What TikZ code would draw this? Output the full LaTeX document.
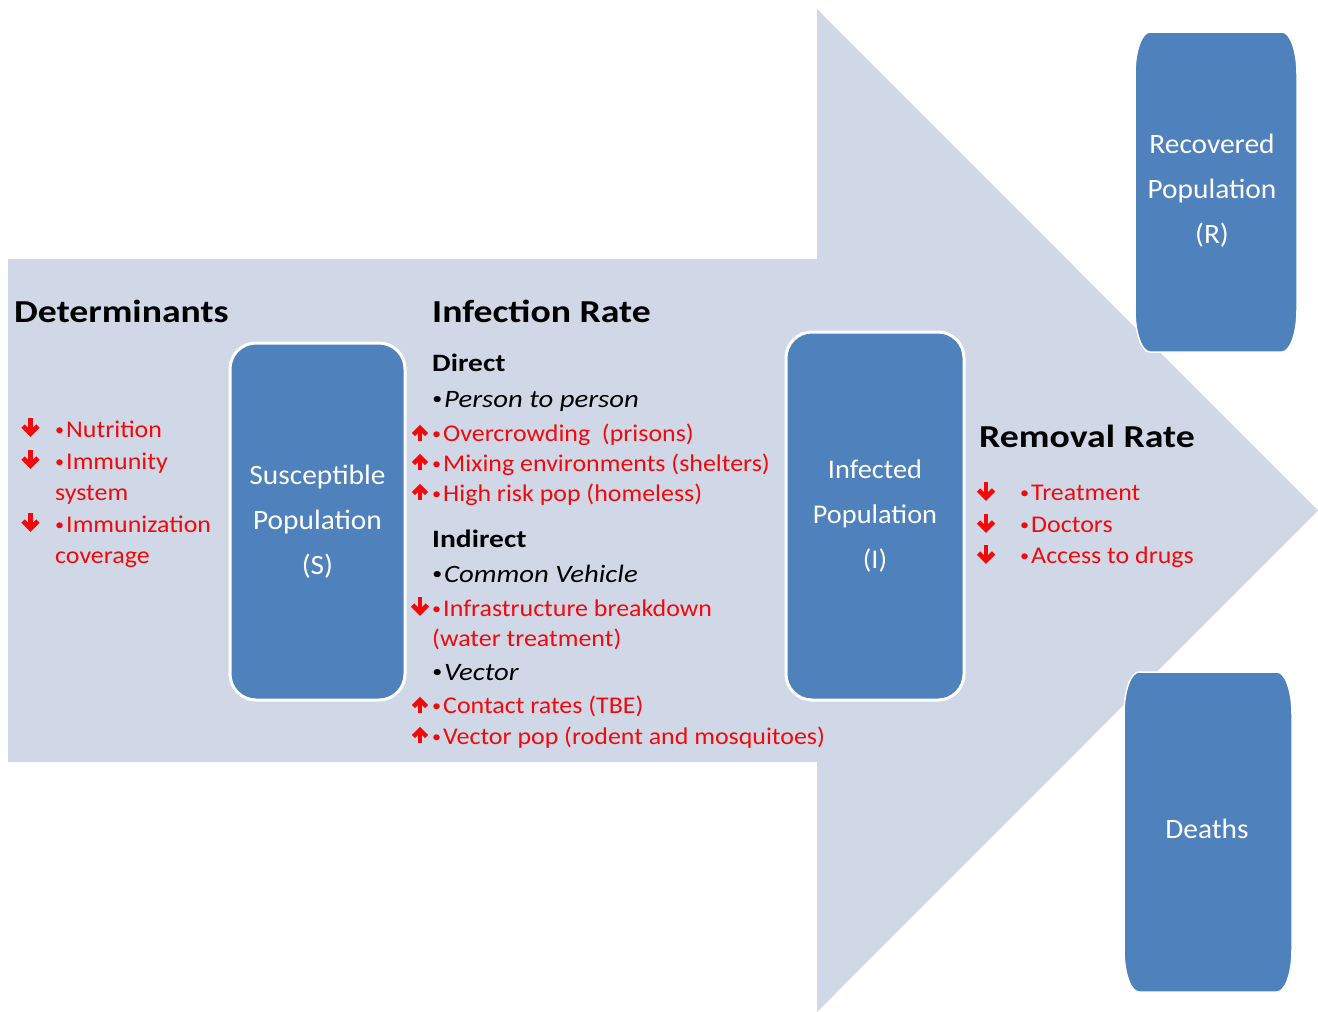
\documentclass[tikz,border=0pt]{standalone}
\usepackage{fontspec}
\setmainfont{Carlito}
\newfontface\headbf{Carlito Bold}[FakeStretch=1.18]
\newfontface\itemit{Carlito Italic}[FakeStretch=1.15]
\newfontface\itemrm{Carlito}[FakeStretch=1.08]
\newfontface\boxrm{Carlito}[FakeStretch=1.05]
\newcommand{\smbul}{\raisebox{0.17ex}{\scalebox{0.7}{•}}\kern2pt}
\usetikzlibrary{arrows.meta}
\definecolor{arrowbg}{HTML}{D0D8E8}
\definecolor{boxblue}{HTML}{4F81BD}
\definecolor{redtxt}{HTML}{F20A0A}
\begin{document}
\begin{tikzpicture}[x=1pt,y=-1pt,
  popbox/.style={rectangle, rounded corners=26pt, fill=boxblue, draw=white, line width=3pt,
    text=white, font=\boxrm\fontsize{28}{45}\selectfont, align=center, inner sep=0pt},
  boxtext/.style={text=white, font=\boxrm\fontsize{28}{45}\selectfont, align=center, inner sep=0pt},
  head/.style={anchor=base west, inner sep=0pt, font=\headbf\fontsize{32}{32}\selectfont},
  subhead/.style={anchor=base west, inner sep=0pt, font=\headbf\fontsize{25}{25}\selectfont},
  item/.style={anchor=base west, inner sep=0pt, font=\itemrm\fontsize{24}{24}\selectfont},
  ititem/.style={item, font=\itemit\fontsize{25}{25}\selectfont},
  reditem/.style={item, text=redtxt},
  downarr/.pic={\draw[redtxt, line width=4.8pt] (0,-10) -- (0,4);
                \draw[redtxt, line width=4.8pt, line join=miter, miter limit=3] (-7.5,-2) -- (0,5.5) -- (7.5,-2);},
  uparr/.pic={\draw[redtxt, line width=4.4pt] (0,8) -- (0,-3);
              \draw[redtxt, line width=4.4pt, line join=miter, miter limit=3] (-6.5,1.5) -- (0,-5) -- (6.5,1.5);}
]
\useasboundingbox (0,0) rectangle (1318,1012);
\fill[white] (0,0) rectangle (1318,1012);
% big arrow
\fill[arrowbg] (8,259) -- (817,259) -- (817,9) -- (1318,510.5) -- (817,1012) -- (817,762) -- (8,762) -- cycle;

% population boxes
\node[popbox, minimum width=175pt, minimum height=357pt] (S) at (317.5,521.5)
  {Susceptible\\Population\\(S)};
\node[popbox, minimum width=178pt, minimum height=368pt, font=\boxrm\fontsize{27}{45}\selectfont] (I) at (875,516)
  {Infected\\Population\\(I)};

% recovered box (barrel corners)
\fill[boxblue, draw=white, line width=1.5pt]
  (1150,32) -- (1282,32) .. controls (1290,32) and (1297,50) .. (1297,74) -- (1297,310)
  .. controls (1297,334) and (1290,352) .. (1282,352) -- (1150,352)
  .. controls (1142,352) and (1135,334) .. (1135,310)
  -- (1135,74) .. controls (1135,50) and (1142,32) .. (1150,32) -- cycle;
\node[boxtext] (R) at (1212,191) {Recovered\\Population\\(R)};

% deaths box
\fill[boxblue, draw=white, line width=1.5pt]
  (1139,672) -- (1277,672) .. controls (1285,672) and (1292,690) .. (1292,714) -- (1292,950)
  .. controls (1292,974) and (1285,992) .. (1277,992) -- (1139,992)
  .. controls (1131,992) and (1124,974) .. (1124,950)
  -- (1124,714) .. controls (1124,690) and (1131,672) .. (1139,672) -- cycle;
\node[boxtext] (D) at (1207,829) {Deaths};

% Determinants column
\node[head] (det) at (14,322) {Determinants};
\node[reditem] (nut) at (55,437) {\smbul Nutrition};
\node[reditem] (imm) at (55,469) {\smbul Immunity};
\node[reditem] (sys) at (55,500) {system};
\node[reditem] (imz) at (55,532) {\smbul Immunization};
\node[reditem] (cov) at (55,563) {coverage};
\pic at (30.5,428) {downarr};
\pic at (30.5,460) {downarr};
\pic at (30.5,523) {downarr};

% Infection rate column
\node[head] (inf) at (432,322) {Infection Rate};
\node[subhead] (dir) at (432,371) {Direct};
\node[ititem] (p2p) at (432,407) {\smbul Person to person};
\node[reditem] (ovc) at (432,441) {\smbul Overcrowding\ \ (prisons)};
\node[reditem] (mix) at (432,471) {\smbul Mixing environments (shelters)};
\node[reditem] (hrp) at (432,501) {\smbul High risk pop (homeless)};
\node[subhead] (ind) at (432,547) {Indirect};
\node[ititem] (cv) at (432,582) {\smbul Common Vehicle};
\node[reditem] (infr) at (432,616) {\smbul Infrastructure breakdown};
\node[reditem] (wat) at (432,646) {(water treatment)};
\node[ititem] (vec) at (432,680) {\smbul Vector};
\node[reditem] (con) at (432,713) {\smbul Contact rates (TBE)};
\node[reditem] (vpop) at (432,744) {\smbul Vector pop (rodent and mosquitoes)};
\pic at (420,433) {uparr};
\pic at (420,462) {uparr};
\pic at (420,492) {uparr};
\pic at (420,607) {downarr};
\pic at (420,705) {uparr};
\pic at (420,735) {uparr};

% Removal rate column
\node[head] (rem) at (979,447) {Removal Rate};
\node[reditem] (trt) at (1020,500) {\smbul Treatment};
\node[reditem] (doc) at (1020,532) {\smbul Doctors};
\node[reditem] (acc) at (1020,563) {\smbul Access to drugs};
\pic at (986,492) {downarr};
\pic at (986,524) {downarr};
\pic at (986,555) {downarr};
\end{tikzpicture}
\end{document}
